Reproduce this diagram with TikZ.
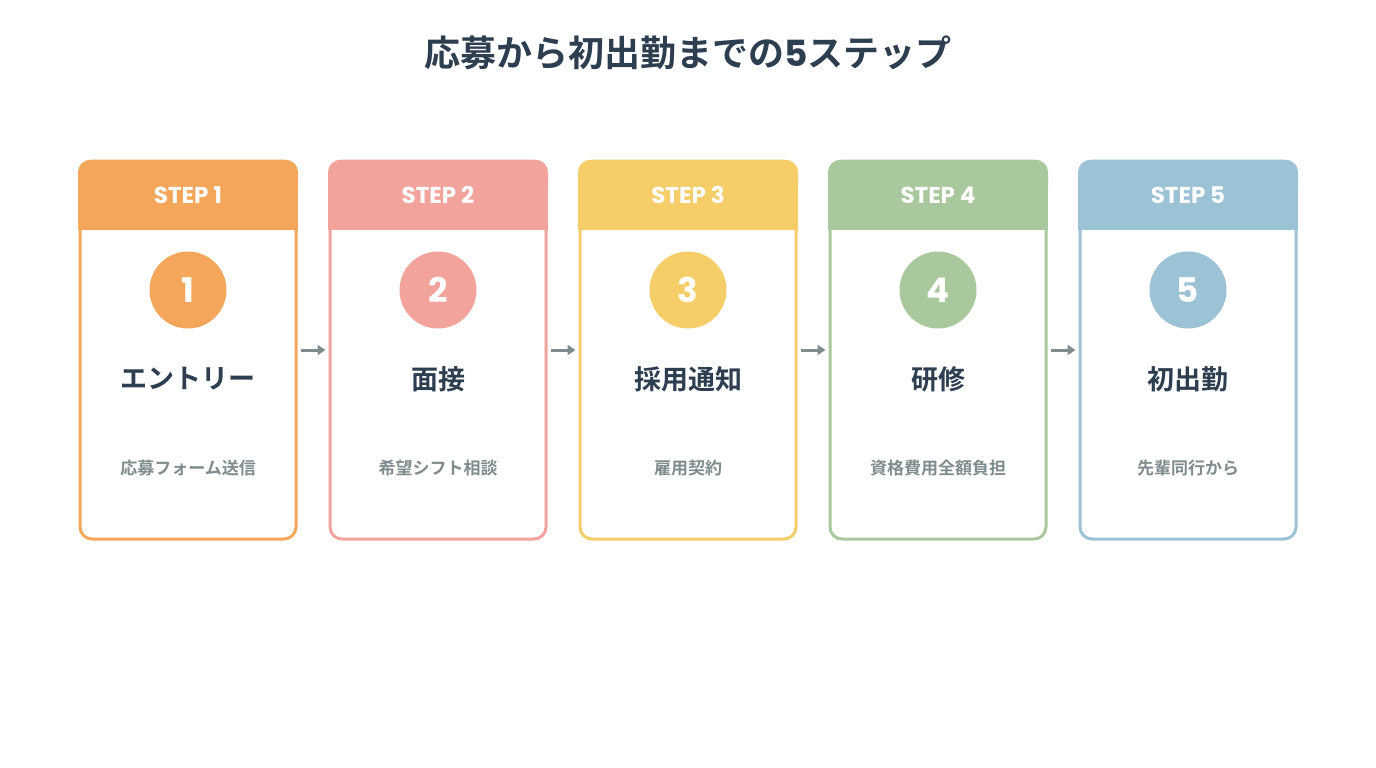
\documentclass[tikz,border=0pt]{standalone}
\usepackage{fontspec}
\setmainfont{Noto Sans CJK JP}[BoldFont={* Bold}]
\newfontfamily\cjkb{Noto Sans CJK JP Bold}
\newfontfamily\popb{Poppins Bold}
\usetikzlibrary{arrows.meta}
\definecolor{cA}{HTML}{F4A65B}
\definecolor{cB}{HTML}{F2A49C}
\definecolor{cC}{HTML}{F5CE6A}
\definecolor{cD}{HTML}{A9C89E}
\definecolor{cE}{HTML}{9CC3D5}
\definecolor{dark}{HTML}{2C3E50}
\definecolor{gry}{HTML}{7F8C8D}
\begin{document}
\begin{tikzpicture}[x=1pt,y=-1pt,
  card/.style={draw=#1,line width=3pt,rounded corners=12pt,fill=white,minimum width=216pt,minimum height=378pt,inner sep=0},
  num/.style={circle,fill=#1,minimum size=77pt,inner sep=0,text=white,font=\popb\fontsize{34}{36}\selectfont},
  ttl/.style={text=dark,font=\cjkb\fontsize{27}{30}\selectfont},
  sub/.style={text=gry,font=\cjkb\fontsize{17}{20}\selectfont},
  hdr/.style={text=white,font=\popb\fontsize{23}{26}\selectfont},
  arr/.style={draw=gry,line width=3pt,-{Triangle[length=8pt,width=10pt]}}]
\useasboundingbox (0,0) rectangle (1376,768);
\node[text=dark,font=\cjkb\fontsize{36}{40}\selectfont] (title) at (688,53) {応募から初出勤までの{\popb 5}ステップ};
\foreach \i/\c/\t/\s in {1/cA/エントリー/応募フォーム送信,2/cB/面接/希望シフト相談,3/cC/採用通知/雇用契約,4/cD/研修/資格費用全額負担,5/cE/初出勤/先輩同行から}{
  \pgfmathsetmacro\cx{188+250*(\i-1)}
  \node[card=\c] (card\i) at (\cx,350) {};
  \fill[\c,rounded corners=12pt] (\cx-110,160) rectangle (\cx+110,200);
  \fill[\c] (\cx-110,185) rectangle (\cx+110,230);
  \node[hdr] (h\i) at (\cx,195) {STEP \i};
  \node[num=\c] (n\i) at (\cx,290) {\i};
  \node[ttl] (t\i) at (\cx,379) {\t};
  \node[sub] (s\i) at (\cx,468) {\s};
}
\foreach \i [evaluate=\i as \j using int(\i+1)] in {1,...,4}{
  \draw[arr] ([xshift=3pt,yshift=0pt]card\i.east) -- ([xshift=-3pt]card\j.west);
}
\end{tikzpicture}
\end{document}
